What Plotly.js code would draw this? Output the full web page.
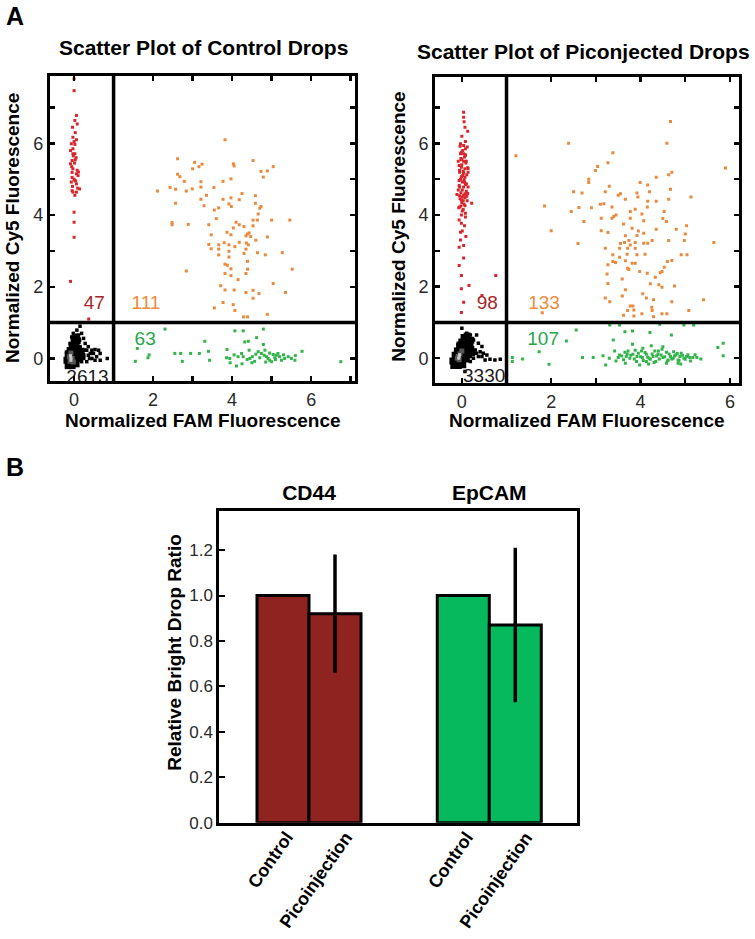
<!DOCTYPE html>
<html><head><meta charset="utf-8">
<script src="https://cdn.plot.ly/plotly-3.0.1.min.js"></script>
<style>html,body{margin:0;padding:0;background:#fff}#chart{width:755px;height:939px}</style>
</head><body><div id="chart"></div>
<script>
// ---------------- DATA ----------------
// gate thresholds (FAM, Cy5)
const gateFAM = 1;
const gateCy5 = 1;

// Control drops: Cy5-only (red)
const ctrlRed = [[0.0,7.80],[0.0,7.47],[0.06,6.78],[0.08,6.54],[0.02,6.64],[-0.04,6.45],[-0.03,6.17],[-0.07,5.99],[0.02,5.97],[-0.09,5.80],[-0.03,5.71],[0.02,5.71],[-0.05,5.52],[0.03,5.54],[-0.09,5.43],[-0.03,5.29],[-0.05,5.19],[0.06,5.15],[0.10,5.10],[0.02,4.96],[-0.07,4.92],[0.06,4.87],[0.14,4.73],[-0.05,4.68],[-0.03,4.64],[0.06,4.64],[0.0,4.08],[0.0,3.80],[0.0,3.38],[-0.09,2.15],[0.37,1.10],
 [0.03,6.30],[0.0,6.05],[-0.03,5.85],[0.05,5.60],[-0.06,5.35],[0.08,5.25],[0.0,5.00],[-0.04,4.80],[0.04,4.95],[0.11,5.20],[-0.02,5.65],[0.06,6.10],[0.02,4.55],[-0.05,5.05],[0.09,4.75],[0.01,5.45]];
// Control drops: double positive (orange)
const ctrlOrange = [[3.82,6.10],[2.62,5.57],[3.05,5.47],[3.24,5.42],[3.16,5.35],[3.00,5.29],[4.03,5.43],[4.05,5.37],[4.53,5.52],[4.73,5.22],[4.89,5.23],[5.04,5.35],[2.62,5.14],[2.68,5.07],[2.79,4.94],[3.77,4.94],[3.97,5.01],[4.79,5.06],[2.11,4.67],[2.43,4.77],[2.57,4.72],[2.84,4.67],[2.99,4.73],[3.21,4.93],[3.21,4.78],[3.54,4.77],[2.57,4.33],[3.21,4.44],[3.29,4.26],[3.55,4.14],[3.66,4.20],[3.77,4.44],[3.97,4.48],[3.92,4.31],[3.98,4.24],[4.18,4.43],[4.59,4.54],[4.59,4.33],[4.73,4.24],[4.70,4.19],[4.66,4.03],[2.48,3.79],[2.48,3.73],[2.89,3.74],[3.41,3.73],[4.03,3.64],[4.18,3.73],[4.30,3.68],[4.53,3.86],[4.64,3.86],[4.53,3.70],[5.00,3.86],[5.46,3.86],[3.87,3.52],[3.97,3.45],[3.47,3.45],[4.35,3.42],[4.39,3.47],[4.43,3.50],[4.47,3.40],[4.89,3.39],[3.41,3.18],[3.47,3.06],[3.66,3.17],[3.66,3.05],[3.80,3.23],[3.92,3.17],[3.92,2.99],[3.66,2.89],[3.92,2.83],[4.07,3.12],[4.18,3.24],[4.36,3.22],[4.41,3.17],[4.35,3.05],[4.30,2.93],[4.64,2.95],[4.84,2.89],[5.27,2.95],[5.52,2.49],[2.84,2.44],[3.82,2.63],[3.88,2.60],[3.97,2.50],[4.39,2.71],[4.39,2.49],[4.35,2.37],[3.97,2.31],[3.82,2.37],[5.04,2.09],[3.71,2.03],[3.82,1.91],[4.05,1.91],[4.35,1.84],[4.53,1.90],[4.53,1.68],[4.68,1.81],[5.35,1.84],[3.77,1.56],[4.03,1.50],[4.07,1.34],[3.55,1.41],[4.29,1.16],[4.39,1.16],[4.89,1.23],
 [3.60,3.90],[4.10,3.80],[4.25,4.60],[3.35,4.55],[4.60,3.30],[4.15,2.20]];
// Control drops: FAM-only (green)
const ctrlGreen = [[1.60,0.28],[2.30,0.82],[3.31,0.48],[4.07,0.77],[4.28,0.77],[4.79,0.82],[4.41,0.48],[4.62,0.58],[4.79,0.39],[1.55,-0.08],[1.87,0.02],[2.55,0.14],[2.70,0.14],[2.95,0.14],[3.17,0.14],[3.43,-0.05],[2.74,-0.08],[3.87,0.25],[3.86,0.02],[3.94,0.00],[4.11,-0.21],[4.24,0.14],[4.28,0.05],[4.43,0.23],[4.45,0.00],[4.51,0.05],[4.57,-0.08],[4.66,0.19],[4.74,0.14],[4.81,0.09],[4.87,0.05],[4.91,0.00],[4.95,-0.05],[5.04,0.11],[5.08,0.02],[5.12,0.09],[5.16,0.14],[5.20,0.05],[5.25,-0.05],[5.33,0.00],[5.42,0.05],[5.50,0.00],[5.59,-0.05],[5.77,0.20],[6.75,-0.09],[4.32,0.46],[5.00,-0.09],[4.83,0.23],
 [4.15,0.05],[4.60,0.12],[4.70,0.02],[5.30,0.10],[4.95,0.15],[4.38,-0.03],[4.05,0.10],[3.95,-0.12],[5.60,0.08],[4.50,-0.12],[5.10,-0.03],[4.85,-0.10],[1.90,0.10],[3.40,0.20],[4.25,-0.15]];
// Control drops: double negative (black) – sparse edge, dense core, bright centre
const ctrlBlackEdge = [[0.15,0.90],[0.07,0.79],[-0.02,0.70],[0.19,0.70],[-0.06,0.60],[0.24,0.56],[0.14,0.51],[0.28,0.42],[0.36,0.33],[0.45,0.23],[0.53,0.25],[0.62,0.23],[0.66,0.14],[0.57,0.05],[0.45,0.00],[0.66,-0.05],[0.84,0.00],[0.36,0.09],[0.32,-0.09],[-0.14,0.00],[-0.20,-0.09],[-0.19,0.18],[-0.10,0.42],[0.28,0.23],[0.15,0.33],[0.41,0.14],[0.49,0.14],[0.53,-0.05],[0.11,0.65],[0.03,0.51],[-0.10,-0.14],[0.07,-0.19],[0.19,-0.09],[0.24,0.05],[0.32,0.23],[0.39,0.00]];
const ctrlBlackCore = [[-0.15,-0.20],[-0.05,-0.20],[0.05,-0.15],[-0.18,-0.05],[-0.08,-0.05],[0.02,-0.05],[0.10,0.00],[-0.15,0.10],[-0.05,0.10],[0.05,0.10],[0.12,0.12],[-0.10,0.22],[0.00,0.22],[0.10,0.25],[-0.05,0.35],[0.05,0.35],[0.00,0.48],[0.08,0.50],[0.05,0.60],[0.18,0.20],[0.20,0.05]];
const ctrlBlackMid = [[-0.12,0.05],[-0.05,0.00],[-0.08,0.15],[-0.02,-0.10],[-0.10,-0.08]];
const ctrlBlackBright = [[-0.08,0.02],[-0.08,-0.05],[-0.09,0.08]];

// Picoinjected drops
const picoRed = [[0.04,6.87],[0.04,6.73],[0.13,6.34],[0.08,6.05],[-0.03,5.99],[0.04,5.94],[0.08,5.85],[-0.03,5.71],[0.04,5.71],[0.08,5.66],[-0.08,5.50],[-0.01,5.54],[0.04,5.50],[0.10,5.50],[-0.06,5.38],[-0.01,5.33],[0.07,5.29],[0.13,5.32],[-0.05,5.19],[0.04,5.17],[0.14,5.19],[-0.01,5.07],[0.07,5.05],[-0.06,4.96],[0.01,4.92],[0.10,4.87],[-0.05,4.78],[0.04,4.78],[0.14,4.78],[-0.11,4.57],[-0.05,4.54],[0.01,4.50],[0.07,4.59],[-0.01,4.42],[0.22,4.33],[0.07,4.26],[-0.05,4.22],[0.01,4.11],[0.08,3.94],[-0.06,3.86],[-0.01,3.77],[-0.03,3.52],[0.04,3.15],[-0.06,3.10],[-0.06,2.59],[-0.01,2.31],[0.76,2.31],[0.16,2.03],[-0.01,1.94],[0.45,1.75],[0.04,1.56],[-0.01,1.28],
 [0.02,5.80],[0.06,5.62],[-0.02,5.58],[0.09,5.45],[0.00,5.40],[-0.05,5.25],[0.03,5.22],[0.11,5.12],[-0.03,5.00],[0.05,4.98],[0.08,4.85],[-0.06,4.82],[0.01,4.70],[0.10,4.66],[-0.02,4.62],[0.04,4.55],[0.07,4.48],[-0.04,4.45],[0.12,4.40],[0.00,4.35],[0.05,4.30],[-0.07,4.20],[0.03,4.15],[0.08,4.05],[-0.01,4.00],[0.06,3.70],[0.01,3.55],[0.09,3.40],[-0.03,3.30],[0.04,2.80],[0.00,6.20],[0.07,6.45],[0.12,5.90],[-0.01,5.75],[0.14,5.30],[0.02,5.10],[0.06,4.92],[-0.08,4.70],[0.11,4.52],[0.03,4.40],[-0.02,4.25],[0.13,4.60],[0.00,5.55],[0.08,5.68],[-0.04,5.92],[0.05,6.60]];
const picoOrange = [[4.67,6.61],[1.21,5.65],[2.39,6.00],[4.59,6.00],[3.38,5.74],[3.27,5.46],[3.04,5.35],[2.99,5.24],[2.84,5.00],[2.84,4.91],[4.70,5.19],[4.63,5.12],[4.35,5.05],[3.99,4.91],[4.16,4.84],[5.90,5.31],[2.50,4.65],[2.69,4.61],[3.21,4.65],[3.55,4.59],[3.66,4.44],[3.92,4.61],[3.94,4.50],[4.67,4.72],[4.63,4.44],[5.13,4.50],[1.85,4.25],[2.62,4.21],[3.18,4.31],[3.36,4.22],[4.16,4.38],[4.35,4.38],[4.15,4.22],[2.45,4.10],[2.73,3.82],[3.12,3.91],[3.36,3.91],[3.40,3.96],[3.77,4.10],[3.88,4.16],[3.77,3.91],[4.03,4.03],[4.07,3.84],[4.53,4.10],[4.58,3.82],[3.62,3.75],[3.81,3.63],[4.07,3.49],[2.00,3.56],[3.12,3.56],[3.27,3.51],[3.66,3.42],[3.92,3.43],[3.74,3.29],[3.64,3.23],[3.77,3.16],[3.88,3.23],[4.07,3.21],[4.16,3.21],[4.26,3.29],[4.63,3.29],[4.98,3.29],[5.03,3.70],[5.00,3.47],[5.64,3.23],[3.21,3.07],[3.53,3.07],[3.71,3.07],[3.88,3.07],[3.38,2.89],[3.53,2.82],[3.27,2.61],[3.38,2.70],[3.44,2.67],[3.66,2.72],[3.81,2.65],[3.88,2.65],[3.92,2.89],[4.91,2.89],[5.04,2.89],[4.70,2.73],[3.71,2.51],[3.74,2.48],[3.98,2.42],[4.15,2.37],[4.44,2.39],[4.48,2.42],[4.53,2.54],[4.33,2.26],[3.27,2.09],[3.59,2.21],[4.22,2.08],[4.41,2.05],[4.48,1.98],[4.76,2.02],[3.66,1.91],[3.21,1.68],[3.31,1.58],[3.59,1.74],[4.13,1.68],[4.29,1.63],[4.70,1.58],[5.41,1.63],[3.77,1.46],[3.83,1.46],[3.71,1.33],[4.26,1.33],[5.08,1.33],[4.29,1.16],[3.85,1.18],[4.03,1.24],[4.48,1.24],[4.59,1.24],[1.80,1.27],
 [3.10,4.30],[3.30,4.80],[3.55,3.20],[4.10,2.90],[4.35,3.60],[3.85,1.35],[4.50,3.90],[2.60,3.20],[3.45,4.00],[4.20,4.65],[3.95,3.55],[3.70,2.90],[4.05,1.80],[3.25,2.35],[4.60,2.70],[3.62,1.20],[4.25,1.42],[3.50,4.55],[2.90,4.20],[4.80,3.60]];
const picoGreen = [[1.13,0.02],[1.13,-0.09],[1.36,-0.02],[1.73,0.18],[1.95,-0.17],[2.34,0.48],[2.56,0.79],[3.31,0.93],[3.53,0.93],[3.65,0.74],[3.82,0.76],[4.21,0.72],[4.43,0.95],[4.69,0.65],[4.97,0.93],[5.19,0.93],[3.39,0.51],[3.82,0.39],[4.24,0.35],[4.50,0.32],[2.94,0.02],[3.16,0.07],[3.22,-0.19],[3.42,0.20],[3.53,0.09],[3.65,0.17],[3.68,0.05],[3.76,0.00],[3.83,0.11],[3.92,0.05],[3.98,-0.19],[4.04,0.02],[4.13,0.11],[4.19,0.00],[4.28,0.05],[4.34,-0.09],[4.39,0.11],[4.50,0.02],[4.58,0.17],[4.62,-0.05],[4.67,0.05],[4.73,0.00],[4.79,0.09],[4.84,-0.05],[4.88,0.05],[4.91,0.14],[4.97,0.00],[5.03,0.05],[5.10,0.02],[5.17,0.02],[5.26,0.02],[5.73,0.30],[5.85,0.42],[5.85,0.07],[3.50,0.02],[3.72,0.20],[4.02,0.20],[4.32,0.20],[4.58,-0.14],[4.13,-0.09],[3.91,-0.09],[4.84,-0.14],
 [3.58,0.06],[3.62,-0.04],[3.70,0.12],[3.78,0.08],[3.86,-0.02],[3.95,0.14],[4.00,0.04],[4.06,-0.06],[4.10,0.16],[4.16,0.03],[4.22,-0.03],[4.26,0.12],[4.30,-0.12],[4.36,0.06],[4.42,-0.02],[4.46,0.09],[4.54,0.04],[4.60,-0.08],[4.64,0.12],[4.70,-0.02],[4.76,0.06],[4.82,0.13],[4.86,-0.06],[4.94,0.08],[5.00,-0.03],[5.06,0.10],[5.12,-0.08],[3.45,-0.08],[3.88,0.22],[4.48,0.25],[3.30,0.00],[2.70,0.02],[4.05,0.28],[4.74,0.18],[5.22,0.10],[5.35,-0.02],[3.66,-0.14],[4.18,-0.16],[4.40,0.20],[4.90,-0.16]];
const picoBlackEdge = [[0.00,0.84],[0.11,0.70],[0.19,0.65],[0.33,0.65],[0.26,0.51],[0.37,0.42],[0.45,0.33],[0.30,0.23],[0.41,0.18],[0.48,0.14],[0.56,0.09],[0.37,0.05],[0.63,-0.03],[0.74,-0.05],[0.86,-0.03],[0.52,-0.05],[0.26,0.00],[-0.04,-0.23],[-0.19,-0.14],[-0.22,-0.05],[0.22,0.37],[0.15,0.56],[0.04,0.61],[-0.08,0.42],[0.19,-0.09],[-0.11,-0.19],[0.33,0.14],[0.45,0.05],[0.07,-0.37]];
const picoBlackCore = [[-0.18,-0.20],[-0.08,-0.20],[0.02,-0.18],[-0.20,-0.08],[-0.10,-0.05],[0.00,-0.05],[0.10,-0.02],[-0.15,0.08],[-0.05,0.08],[0.05,0.08],[0.15,0.10],[-0.10,0.20],[0.00,0.20],[0.10,0.22],[0.20,0.25],[-0.05,0.32],[0.05,0.35],[0.15,0.38],[0.00,0.45],[0.10,0.50],[0.20,0.50],[0.05,0.58],[0.12,0.62],[0.22,0.15]];
const picoBlackMid = [[-0.08,0.05],[-0.04,0.12],[-0.06,-0.04],[0.00,0.20],[-0.10,0.00]];
const picoBlackBright = [[-0.06,0.05],[-0.05,0.10],[-0.07,0.00]];

// Gate counts
const ctrlCounts = ['47', '111', '63', '2613'];
const picoCounts = ['98', '133', '107', '3330'];

// Panel B
const groups = ['CD44', 'EpCAM'];
const conditions = ['Control', 'Picoinjection'];
const controlRatio = [1.0, 1.0];
const picoRatio = [0.92, 0.87];
const picoErr = [0.26, 0.34];

// ---------------- STYLE ----------------
const FONT = 'Liberation Sans, Arial, Helvetica, sans-serif';
const RED = '#d8262c', ORANGE = '#ea8a3e', GREEN = '#33b44b';
const LBL_RED = '#a3262a', LBL_ORANGE = '#ef8a3c', LBL_GREEN = '#25a74a';
const BAR_COLORS = ['#8e231f', '#05b95c'];

function pts(pairs, xa, ya, color, size) {
  return {type: 'scatter', mode: 'markers', x: pairs.map(p => p[0]), y: pairs.map(p => p[1]),
    xaxis: xa, yaxis: ya, hoverinfo: 'skip',
    marker: {symbol: 'square', size: size, color: color, line: {width: 0}}};
}
function countText(labels, xa, ya, xs, ys) {
  return {type: 'scatter', mode: 'text', x: xs, y: ys, text: labels, xaxis: xa, yaxis: ya,
    cliponaxis: true, hoverinfo: 'skip', textposition: 'middle center',
    textfont: {family: FONT, size: 19, color: [LBL_RED, LBL_ORANGE, LBL_GREEN, '#1a1a1a']}};
}

const traces = [
  pts(ctrlBlackEdge, 'x', 'y', 'black', 3.5),
  pts(ctrlBlackCore, 'x', 'y', 'black', 7),
  pts(ctrlBlackMid, 'x', 'y', '#555', 5),
  pts(ctrlBlackBright, 'x', 'y', '#c8c8c8', 3),
  pts(ctrlRed, 'x', 'y', RED, 3),
  pts(ctrlOrange, 'x', 'y', ORANGE, 3),
  pts(ctrlGreen, 'x', 'y', GREEN, 3),
  countText(ctrlCounts, 'x', 'y', [0.51, 1.82, 1.80, 0.34], [1.52, 1.52, 0.51, -0.55]),

  pts(picoBlackEdge, 'x2', 'y2', 'black', 3.5),
  pts(picoBlackCore, 'x2', 'y2', 'black', 7),
  pts(picoBlackMid, 'x2', 'y2', '#555', 5),
  pts(picoBlackBright, 'x2', 'y2', '#c8c8c8', 3),
  pts(picoRed, 'x2', 'y2', RED, 3),
  pts(picoOrange, 'x2', 'y2', ORANGE, 3),
  pts(picoGreen, 'x2', 'y2', GREEN, 3),
  countText(picoCounts, 'x2', 'y2', [0.57, 1.84, 1.82, 0.50], [1.52, 1.52, 0.51, -0.52]),

  {type: 'bar', name: conditions[0], x: groups, y: controlRatio, xaxis: 'x3', yaxis: 'y3',
   marker: {color: BAR_COLORS, line: {color: 'black', width: 3}}, hoverinfo: 'skip'},
  {type: 'bar', name: conditions[1], x: groups, y: picoRatio, xaxis: 'x3', yaxis: 'y3',
   marker: {color: BAR_COLORS, line: {color: 'black', width: 3}}, hoverinfo: 'skip',
   error_y: {type: 'data', array: picoErr, visible: true, color: 'black', thickness: 3.5, width: 0}}
];

function scatterAxis(domain, range, anchor) {
  return {domain: domain, range: range, anchor: anchor, tick0: 0, dtick: 2,
    ticks: 'inside', ticklen: 5, tickwidth: 2.5, tickcolor: 'black',
    minor: {tick0: 0, dtick: 1, ticks: 'inside', ticklen: 5, tickwidth: 2.5, tickcolor: 'black'},
    showline: true, linewidth: 3, linecolor: 'black', mirror: 'allticks',
    showgrid: false, zeroline: false, fixedrange: true,
    tickfont: {family: FONT, size: 18, color: '#2a2a2a'}};
}

const shapes = [];
[['x', 'y'], ['x2', 'y2']].forEach(([xa, ya]) => {
  shapes.push({type: 'line', xref: xa, yref: ya + ' domain', x0: gateFAM, x1: gateFAM, y0: 0, y1: 1,
    line: {color: 'black', width: 3.5}});
  shapes.push({type: 'line', xref: xa + ' domain', yref: ya, x0: 0, x1: 1, y0: gateCy5, y1: gateCy5,
    line: {color: 'black', width: 3.5}});
});

function txt(text, x, y, size, opts) {
  return Object.assign({text: text, x: x, y: y, xref: 'paper', yref: 'paper', showarrow: false,
    xanchor: 'center', yanchor: 'middle', font: {family: FONT, size: size, color: 'black', weight: 'bold'}}, opts || {});
}

const annotations = [
  txt('A', 0.0205, 0.983, 25),
  txt('B', 0.0205, 0.503, 25),
  txt('Scatter Plot of Control Drops', 0.2693, 0.9489, 21),
  txt('Scatter Plot of Piconjected Drops', 0.7735, 0.9450, 21),
  txt('Normalized Cy5 Fluorescence', 0.0172, 0.7572, 19, {textangle: -90}),
  txt('Normalized Cy5 Fluorescence', 0.5285, 0.7586, 19, {textangle: -90}),
  txt('Normalized FAM Fluorescence', 0.2689, 0.5527, 19),
  txt('Normalized FAM Fluorescence', 0.7775, 0.5527, 19),
  txt('Relative Bright Drop Ratio', 0.2318, 0.3049, 19, {textangle: -90})
];
const labelShift = [-9, 50];
groups.forEach((g, i) => {
  conditions.forEach((c, j) => {
    annotations.push({text: c, xref: 'x3', yref: 'y3', x: i, y: 0, showarrow: false,
      xanchor: 'right', yanchor: 'top', textangle: -55, xshift: labelShift[j], yshift: -3,
      font: {family: FONT, size: 18, color: 'black', weight: 'bold'}});
  });
});

const layout = {
  width: 755, height: 939, margin: {l: 0, r: 0, t: 0, b: 0},
  paper_bgcolor: 'white', plot_bgcolor: 'white', showlegend: false,
  font: {family: FONT},
  xaxis: scatterAxis([0.0662, 0.4702], [-0.61, 7.11], 'y'),
  yaxis: scatterAxis([0.5942, 0.9191], [-0.63, 7.88], 'x'),
  xaxis2: scatterAxis([0.5762, 0.9792], [-0.60, 6.21], 'y2'),
  yaxis2: scatterAxis([0.5918, 0.9183], [-0.70, 7.86], 'x2'),
  xaxis3: {domain: [0.2905, 0.7642], anchor: 'y3', type: 'category', range: [-0.4975, 1.4865],
    side: 'top', showline: true, linewidth: 3, linecolor: 'black', mirror: true, ticks: '',
    showgrid: false, zeroline: false, fixedrange: true,
    tickfont: {family: FONT, size: 21, color: 'black', weight: 'bold'}},
  yaxis3: {domain: [0.1239, 0.4558], anchor: 'x3', range: [0, 1.372], tick0: 0, dtick: 0.2, tickformat: '.1f',
    ticks: 'inside', ticklen: 6, tickwidth: 2, tickcolor: 'black',
    showline: true, linewidth: 3, linecolor: 'black', mirror: true,
    showgrid: false, zeroline: false, fixedrange: true,
    tickfont: {family: FONT, size: 17, color: '#2a2a2a'}},
  barmode: 'group', bargap: 0.423, bargroupgap: 0,
  shapes: shapes, annotations: annotations
};

Plotly.newPlot('chart', traces, layout, {displayModeBar: false, staticPlot: true});
</script></body></html>
